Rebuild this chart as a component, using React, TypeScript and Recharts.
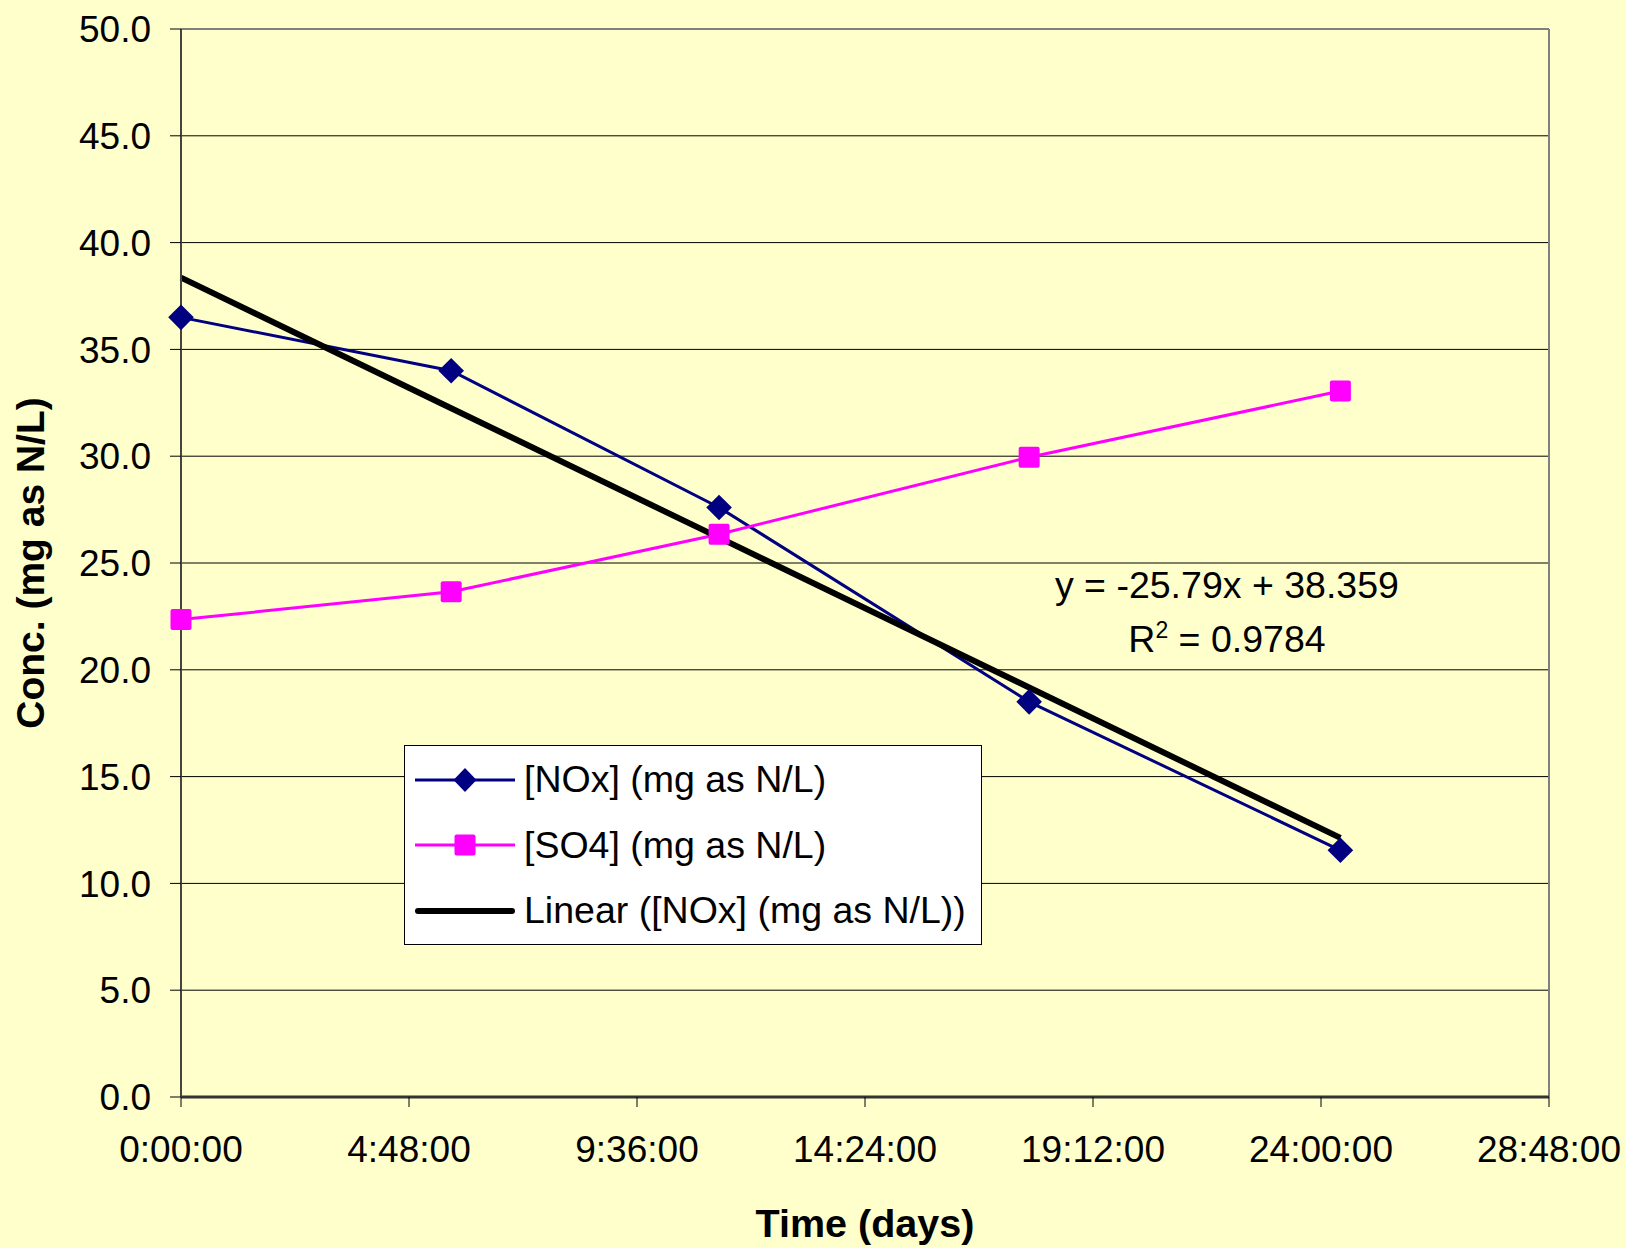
import React from "react";
import {
  ComposedChart,
  Line,
  XAxis,
  YAxis,
  CartesianGrid,
  Legend,
  ReferenceLine,
  ReferenceDot,
} from "recharts";

// sample times, in days
const timeDays = [0, 0.237, 0.472, 0.744, 1.017];
const noxValues = [36.5, 34.0, 27.6, 18.5, 11.55];
const so4Values = [22.35, 23.65, 26.35, 29.95, 33.05];

// Excel linear trendline of NOx
const trendSlope = -25.79;
const trendIntercept = 38.359;
const trendR2 = "0.9784";

const xTicks = [0, 0.2, 0.4, 0.6, 0.8, 1.0, 1.2];
const xTickLabels = ["0:00:00", "4:48:00", "9:36:00", "14:24:00", "19:12:00", "24:00:00", "28:48:00"];
const yTicks = [0, 5, 10, 15, 20, 25, 30, 35, 40, 45, 50];

const seriesNames = ["[NOx] (mg as N/L)", "[SO4] (mg as N/L)", "Linear ([NOx] (mg as N/L))"];

const data = timeDays.map((t, i) => ({
  t,
  nox: noxValues[i],
  so4: so4Values[i],
  trend: trendSlope * t + trendIntercept,
}));

const FONT = "'Liberation Sans', Arial, Helvetica, sans-serif";
const BG = "#FFFFCC";
const NAVY = "#000080";
const MAGENTA = "#FF00FF";

const Diamond = (p: any) => (
  <path
    key={`nox-${p.index}`}
    d={`M${p.cx},${p.cy - 12.8} L${p.cx + 12.8},${p.cy} L${p.cx},${p.cy + 12.8} L${p.cx - 12.8},${p.cy} Z`}
    fill={NAVY}
  />
);

const Square = (p: any) => (
  <rect key={`so4-${p.index}`} x={p.cx - 10.5} y={p.cy - 10.5} width={21} height={21} rx={2} fill={MAGENTA} />
);

const legendIcon = (key: string) => {
  if (key === "nox")
    return (
      <svg width={100} height={30}>
        <line x1={0} y1={15} x2={100} y2={15} stroke={NAVY} strokeWidth={3} />
        <path d="M50,3 L61.5,15 L50,27 L38.5,15 Z" fill={NAVY} />
      </svg>
    );
  if (key === "so4")
    return (
      <svg width={100} height={30}>
        <line x1={0} y1={15} x2={100} y2={15} stroke={MAGENTA} strokeWidth={3} />
        <rect x={39.5} y={4.5} width={21} height={21} rx={2} fill={MAGENTA} />
      </svg>
    );
  return (
    <svg width={100} height={30}>
      <line x1={3} y1={15} x2={97} y2={15} stroke="#000" strokeWidth={6} strokeLinecap="round" />
    </svg>
  );
};

const LegendBox = ({ payload }: any) => {
  const items = [...(payload || [])].sort(
    (a: any, b: any) => seriesNames.indexOf(a.value) - seriesNames.indexOf(b.value)
  );
  return (
    <div
      style={{
        width: 578,
        height: 200,
        boxSizing: "border-box",
        background: "#fff",
        border: "1.5px solid #000",
        paddingTop: 1,
        fontFamily: FONT,
      }}
    >
      {items.map((entry: any) => (
        <div key={entry.value} style={{ display: "flex", alignItems: "center", height: 65.5 }}>
          <div style={{ marginLeft: 10, width: 100, height: 30 }}>{legendIcon(entry.dataKey)}</div>
          <span style={{ marginLeft: 9, fontSize: 37.5, color: "#000", whiteSpace: "nowrap" }}>{entry.value}</span>
        </div>
      ))}
    </div>
  );
};

const EquationLabel = (props: any) => {
  const vb = props.viewBox || {};
  const x = vb.x + (vb.width || 0) / 2;
  const y = vb.y + (vb.height || 0) / 2;
  return (
    <g>
      <text x={x} y={y} textAnchor="middle" fontSize={37.5} fontFamily={FONT} fill="#000">
        {`y = ${trendSlope}x + ${trendIntercept}`}
      </text>
      <text x={x} y={y + 54} textAnchor="middle" fontSize={37.5} fontFamily={FONT} fill="#000">
        R<tspan fontSize={23} dy={-14}>2</tspan>
        <tspan dy={14}>{` = ${trendR2}`}</tspan>
      </text>
    </g>
  );
};

const YTitle = (props: any) => {
  const vb = props.viewBox || {};
  const cy = vb.y + vb.height / 2;
  return (
    <text
      x={44}
      y={cy}
      transform={`rotate(-90, 44, ${cy})`}
      textAnchor="middle"
      fontSize={39}
      fontWeight="bold"
      fontFamily={FONT}
      fill="#000"
    >
      Conc. (mg as N/L)
    </text>
  );
};

const XTitle = (props: any) => {
  const vb = props.viewBox || {};
  const cx = vb.x + vb.width / 2;
  return (
    <text x={cx} y={1237} textAnchor="middle" fontSize={39.5} fontWeight="bold" fontFamily={FONT} fill="#000">
      Time (days)
    </text>
  );
};

export default function App() {
  const tickStyle = { fill: "#000", fontSize: 37, fontFamily: FONT };
  return (
    <div style={{ position: "fixed", left: 0, top: 0, width: 1626, height: 1248, background: BG }}>
      <ComposedChart
        width={1626}
        height={1248}
        data={data}
        margin={{ top: 29, right: 77, bottom: 0, left: 0 }}
        style={{ background: BG }}
      >
        <CartesianGrid vertical={false} stroke="#000" strokeWidth={1} />
        <XAxis
          dataKey="t"
          type="number"
          domain={[0, 1.2]}
          ticks={xTicks}
          interval={0}
          height={151}
          tickFormatter={(v: number) => xTickLabels[xTicks.indexOf(v)] ?? ""}
          tick={tickStyle}
          tickSize={10}
          tickMargin={29}
          axisLine={{ stroke: "#333", strokeWidth: 3 }}
          tickLine={{ stroke: "#000", strokeWidth: 1 }}
          label={{ content: XTitle }}
        />
        <YAxis
          type="number"
          domain={[0, 50]}
          ticks={yTicks}
          interval={0}
          width={181}
          tickFormatter={(v: number) => v.toFixed(1)}
          tick={tickStyle}
          tickSize={11}
          tickMargin={19}
          axisLine={{ stroke: "#444", strokeWidth: 2 }}
          tickLine={{ stroke: "#000", strokeWidth: 1 }}
          label={{ content: YTitle }}
        />
        <ReferenceLine y={50} stroke="#808080" strokeWidth={2} />
        <ReferenceLine x={1.2} stroke="#808080" strokeWidth={2} />
        <Line
          dataKey="nox"
          name={seriesNames[0]}
          stroke={NAVY}
          strokeWidth={3}
          dot={Diamond}
          activeDot={false}
          isAnimationActive={false}
        />
        <Line
          dataKey="so4"
          name={seriesNames[1]}
          stroke={MAGENTA}
          strokeWidth={3}
          dot={Square}
          activeDot={false}
          isAnimationActive={false}
        />
        <Line
          dataKey="trend"
          name={seriesNames[2]}
          stroke="#000"
          strokeWidth={6}
          dot={false}
          activeDot={false}
          isAnimationActive={false}
        />
        <ReferenceDot x={0.9175} y={23.36} r={0} fill="none" stroke="none" label={{ content: EquationLabel }} />
        <Legend
          layout="vertical"
          align="center"
          verticalAlign="middle"
          content={LegendBox}
          wrapperStyle={{ left: 404, top: 745, width: 578, height: 200 }}
        />
      </ComposedChart>
    </div>
  );
}
